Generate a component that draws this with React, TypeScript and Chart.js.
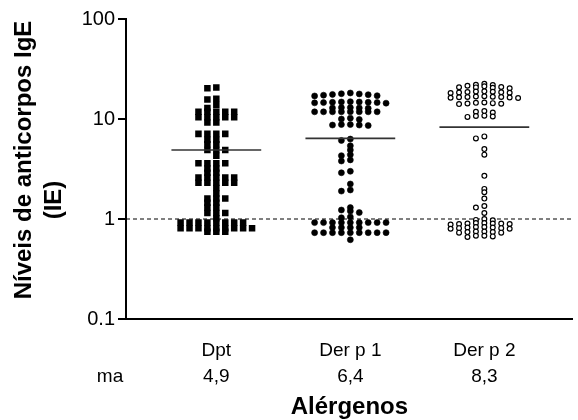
import React, { useEffect, useRef } from "react";
import { Chart, registerables } from "chart.js";

Chart.register(...registerables);

// ---------- data ----------
const categories = ["Dpt", "Der p 1", "Der p 2"];
const meanRowLabel = "ma";
const means = [4.9, 6.4, 8.3];
const yTickValues = [0.1, 1, 10, 100];
const referenceLevel = [1];
const xTitle = "Alérgenos";
const yTitleLines = ["Níveis de anticorpos IgE", "(IE)"];

const dptValues = [
  20.6, 20.3,
  15.9, 15.7,
  13.8,
  12.9,
  11.8, 11.8, 11.8, 11.8, 11.8,
  10.4, 10.4, 10.4, 10.4, 10.4,
  9.2, 9.2,
  7.1, 7.1, 7.1, 7.1,
  6.2, 6.2,
  5.6, 5.6,
  4.9, 4.9, 4.9,
  4.3,
  3.6, 3.6, 3.6, 3.6,
  3.2, 3.2,
  2.9, 2.9,
  2.6, 2.6, 2.6, 2.6, 2.6,
  2.3, 2.3, 2.3, 2.3, 2.3,
  2.04,
  1.8,
  1.6, 1.6, 1.6,
  1.45, 1.45,
  1.3, 1.3,
  1.15, 1.15, 1.15,
  1.02,
  0.92, 0.92, 0.92, 0.92, 0.92, 0.92, 0.92, 0.92,
  0.81, 0.81, 0.81, 0.81, 0.81, 0.81, 0.81, 0.81, 0.81,
  0.745, 0.745, 0.745,
];

const derp1Values = [
  18.2, 17.9, 17.6, 17.3, 17.0, 17.1, 17.5, 17.8,
  14.9, 14.8, 14.7, 14.6, 14.5, 14.6, 14.7, 14.8, 14.4,
  13.0, 12.9, 12.8, 12.9, 13.0,
  11.8, 11.8, 11.8, 11.8, 11.8, 11.8, 11.8, 11.8,
  10.2, 10.0, 9.9,
  8.8, 8.7, 8.6, 8.7, 8.8,
  6.3, 6.1, 5.4, 4.9, 4.4, 4.3, 3.9, 3.8, 3.0, 2.9, 2.24, 1.95, 1.9,
  1.3, 1.23, 1.2, 1.16, 1.05, 1.03,
  0.92, 0.92, 0.92, 0.92, 0.92, 0.92, 0.92, 0.92, 0.92,
  0.82, 0.82, 0.82, 0.82,
  0.73, 0.73, 0.73, 0.73, 0.73, 0.73, 0.73, 0.73, 0.73,
  0.62,
];

const derp2Values = [
  22.5, 21.9, 20.9, 20.5, 21.2, 20.7, 20.3, 21.5, 22.0, 20.8,
  18.8, 18.6, 18.4, 18.9, 18.5, 18.2, 18.7, 18.3,
  16.8, 16.6, 16.4, 16.9, 16.5, 16.2, 16.7, 16.3, 16.6,
  14.6, 14.4, 14.2, 14.5, 14.3, 14.1,
  12.0, 11.8, 11.6,
  10.8, 10.6, 10.7, 10.5,
  6.7, 6.4, 5.0, 4.4, 2.7, 2.0, 1.85, 1.6, 1.35, 1.3, 1.15, 1.0, 0.98, 0.97,
  0.91, 0.9, 0.89, 0.9, 0.91, 0.89, 0.9, 0.88,
  0.83, 0.82, 0.81, 0.8, 0.82, 0.81, 0.83, 0.8,
  0.75, 0.74, 0.73, 0.75, 0.74, 0.73,
  0.68, 0.67, 0.68, 0.66,
];

// ---------- layout constants ----------
const X_MIN = 0.326;
const X_MAX = 3.66;
const MEAN_HALF = 0.335;
const FONT = '"Liberation Sans", Arial, Helvetica, sans-serif';

// beeswarm placement on a fixed horizontal grid (computed from the values)
function swarm(values: number[], center: number, step: number, thr: number) {
  const sorted = [...values].sort((a, b) => b - a);
  const placed: { slot: number; ly: number }[] = [];
  const pts: { x: number; y: number }[] = [];
  for (const v of sorted) {
    const ly = Math.log10(v);
    let chosen = 0;
    for (let k = 0; k < 60; k++) {
      const slot = k === 0 ? 0 : k % 2 === 1 ? -Math.ceil(k / 2) : Math.ceil(k / 2);
      const clash = placed.some((p) => p.slot === slot && Math.abs(p.ly - ly) < thr);
      if (!clash) {
        chosen = slot;
        break;
      }
    }
    placed.push({ slot: chosen, ly });
    pts.push({ x: center + chosen * step, y: v });
  }
  return pts;
}

const fmtMean = (m: number) => m.toFixed(1).replace(".", ",");

const textPlugin = {
  id: "extraText",
  afterDraw(chart: any) {
    const { ctx, chartArea, scales } = chart;
    ctx.save();
    ctx.fillStyle = "#000";
    ctx.textAlign = "center";
    ctx.textBaseline = "alphabetic";
    ctx.font = `19px ${FONT}`;
    categories.forEach((c, i) => {
      const x = scales.x.getPixelForValue(i + 1);
      ctx.fillText(c, x, chartArea.bottom + 37);
      ctx.fillText(fmtMean(means[i]), x, chartArea.bottom + 63);
    });
    ctx.fillText(meanRowLabel, chartArea.left - 16, chartArea.bottom + 63);
    ctx.font = `bold 24px ${FONT}`;
    ctx.fillText(xTitle, (chartArea.left + chartArea.right) / 2, chartArea.bottom + 95);
    // y title (rotated)
    const linePos = [
      { x: chartArea.left - 95, y: chartArea.top + 141 },
      { x: chartArea.left - 65, y: chartArea.top + 181 },
    ];
    yTitleLines.forEach((t, i) => {
      ctx.save();
      ctx.translate(linePos[i].x, linePos[i].y);
      ctx.rotate(-Math.PI / 2);
      ctx.fillText(t, 0, 0);
      ctx.restore();
    });
    ctx.restore();
  },
};

export default function App() {
  const ref = useRef<HTMLCanvasElement | null>(null);

  useEffect(() => {
    if (!ref.current) return;
    const datasets: any[] = [
      {
        type: "line",
        data: [
          { x: X_MIN, y: referenceLevel[0] },
          { x: X_MAX, y: referenceLevel[0] },
        ],
        borderColor: "#000",
        borderWidth: 1,
        borderDash: [4, 3],
        pointRadius: 0,
        order: 5,
      },
      {
        type: "scatter",
        label: categories[0],
        data: swarm(dptValues, 1, 9 / 135, 0.035),
        pointStyle: "rect",
        pointRadius: 4.6,
        backgroundColor: "#000",
        borderColor: "#000",
        borderWidth: 0,
        order: 2,
      },
      {
        type: "scatter",
        label: categories[1],
        data: swarm(derp1Values, 2, 9 / 135, 0.03),
        pointStyle: "circle",
        pointRadius: 3,
        backgroundColor: "#000",
        borderColor: "#000",
        borderWidth: 0.6,
        order: 2,
      },
      {
        type: "scatter",
        label: categories[2],
        data: swarm(derp2Values, 3, 8.5 / 135, 0.025),
        pointStyle: "circle",
        pointRadius: 2.4,
        backgroundColor: "#fff",
        borderColor: "#000",
        borderWidth: 1.2,
        order: 2,
      },
      ...means.map((m, i) => ({
        type: "line",
        data: [
          { x: i + 1 - MEAN_HALF, y: m },
          { x: i + 1 + MEAN_HALF, y: m },
        ],
        borderColor: "#333",
        borderWidth: 1.7,
        pointRadius: 0,
        order: 0,
      })),
    ];

    const chart = new Chart(ref.current, {
      type: "scatter",
      data: { datasets },
      options: {
        responsive: false,
        animation: false,
        devicePixelRatio: 1,
        layout: { padding: { left: 0, top: 19, right: 2, bottom: 0 } },
        plugins: { legend: { display: false }, tooltip: { enabled: false } },
        scales: {
          x: {
            type: "linear",
            min: X_MIN,
            max: X_MAX,
            grid: { display: false, drawTicks: false },
            border: { display: true, color: "#000", width: 2 },
            ticks: { display: false },
            afterFit: (s: any) => {
              s.height = 101;
            },
          },
          y: {
            type: "logarithmic",
            min: 0.1,
            max: 100,
            afterBuildTicks: (s: any) => {
              s.ticks = yTickValues.map((v) => ({ value: v }));
            },
            grid: {
              display: true,
              drawOnChartArea: false,
              drawTicks: true,
              tickLength: 8,
              color: "#000",
              lineWidth: 2,
            },
            border: { display: true, color: "#000", width: 2 },
            ticks: {
              color: "#000",
              padding: 3,
              font: { family: FONT, size: 20 },
              callback: (v: any) => String(v),
            },
            afterFit: (s: any) => {
              s.width = 126;
            },
          },
        },
      } as any,
      plugins: [textPlugin],
    });
    return () => chart.destroy();
  }, []);

  return (
    <div style={{ position: "absolute", left: 0, top: 0, width: 578, height: 420, background: "#fff" }}>
      <canvas ref={ref} width={578} height={420} style={{ display: "block" }} />
    </div>
  );
}
